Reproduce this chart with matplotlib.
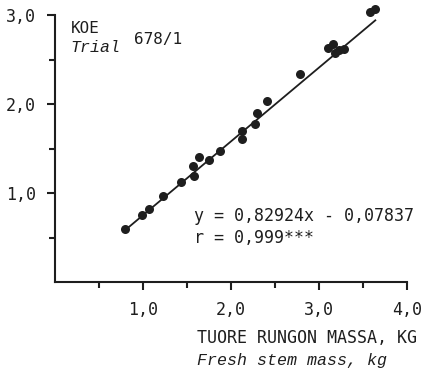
import matplotlib
import matplotlib.pyplot as plt
import numpy as np

matplotlib.use('Agg')

# fresh stem mass (kg) vs. dry/other mass (kg), trial 678/1
stem_mass = [0.79, 0.99, 1.07, 1.23, 1.43, 1.58, 1.57, 1.64, 1.75, 1.88,
             2.12, 2.13, 2.27, 2.30, 2.41, 2.78, 3.10, 3.16, 3.18, 3.23,
             3.28, 3.58, 3.64]
y_mass = [0.59, 0.75, 0.82, 0.97, 1.12, 1.19, 1.30, 1.40, 1.37, 1.47,
          1.70, 1.61, 1.78, 1.90, 2.03, 2.34, 2.63, 2.67, 2.57, 2.61,
          2.62, 3.03, 3.07]
slope = 0.82924
intercept = -0.07837

x_ticks = [1.0, 2.0, 3.0, 4.0]
y_ticks = [1.0, 2.0, 3.0]
x_minor = [0.5, 1.5, 2.5, 3.5]
y_minor = [0.5, 1.5, 2.5]

MONO = 'DejaVu Sans Mono'
ITAL = 'Liberation Mono'
INK = '#1e1e1e'


def comma(v):
    return f'{v:.1f}'.replace('.', ',')


fig = plt.figure(figsize=(4.27, 3.73), dpi=100)
ax = fig.add_axes([55 / 427, (373 - 282) / 373, 352 / 427, 267 / 373])

x = np.array(stem_mass)
fit_x = np.array([x.min(), x.max()])
ax.plot(fit_x, slope * fit_x + intercept, color=INK, lw=1.3, zorder=2,
        clip_on=False)
ax.plot(stem_mass, y_mass, 'o', color=INK, ms=6.5, mec='none', zorder=3,
        clip_on=False)

ax.set_xlim(0, 4.0)
ax.set_ylim(0, 3.0)
for side in ('top', 'right'):
    ax.spines[side].set_visible(False)
for side in ('left', 'bottom'):
    ax.spines[side].set_linewidth(1.5)
    ax.spines[side].set_color(INK)

ax.set_xticks(x_ticks)
ax.set_xticklabels([comma(v) for v in x_ticks])
ax.set_yticks(y_ticks)
ax.set_yticklabels([comma(v) for v in y_ticks])
ax.set_xticks(x_minor, minor=True)
ax.set_yticks(y_minor, minor=True)
ax.tick_params(which='major', direction='out', length=5.5, width=1.5,
               color=INK, labelsize=12, pad=8, labelcolor=INK)
ax.tick_params(which='minor', direction='out', length=4, width=1.5, color=INK)
for lab in ax.get_xticklabels() + ax.get_yticklabels():
    lab.set_family(MONO)

ax.text(0.18, 2.85, 'KOE', family=MONO, fontsize=11.5, color=INK, va='center')
ax.text(0.18, 2.63, 'Trial', family=ITAL, style='italic', fontsize=12,
        color=INK, va='center')
ax.text(0.90, 2.73, '678/1', family=MONO, fontsize=11.5, color=INK, va='center')

ax.text(1.58, 0.74, 'y = 0,82924x - 0,07837', family=MONO, fontsize=12,
        color=INK, va='center')
ax.text(1.58, 0.49, 'r = 0,999***', family=MONO, fontsize=12,
        color=INK, va='center')

fig.text(197 / 427, 1 - 338 / 373, 'TUORE RUNGON MASSA, KG', family=MONO,
         fontsize=12, color=INK, va='center')
fig.text(197 / 427, 1 - 361 / 373, 'Fresh stem mass, kg', family=ITAL,
         style='italic', fontsize=12, color=INK, va='center')

fig.savefig('out.png', dpi=100)
